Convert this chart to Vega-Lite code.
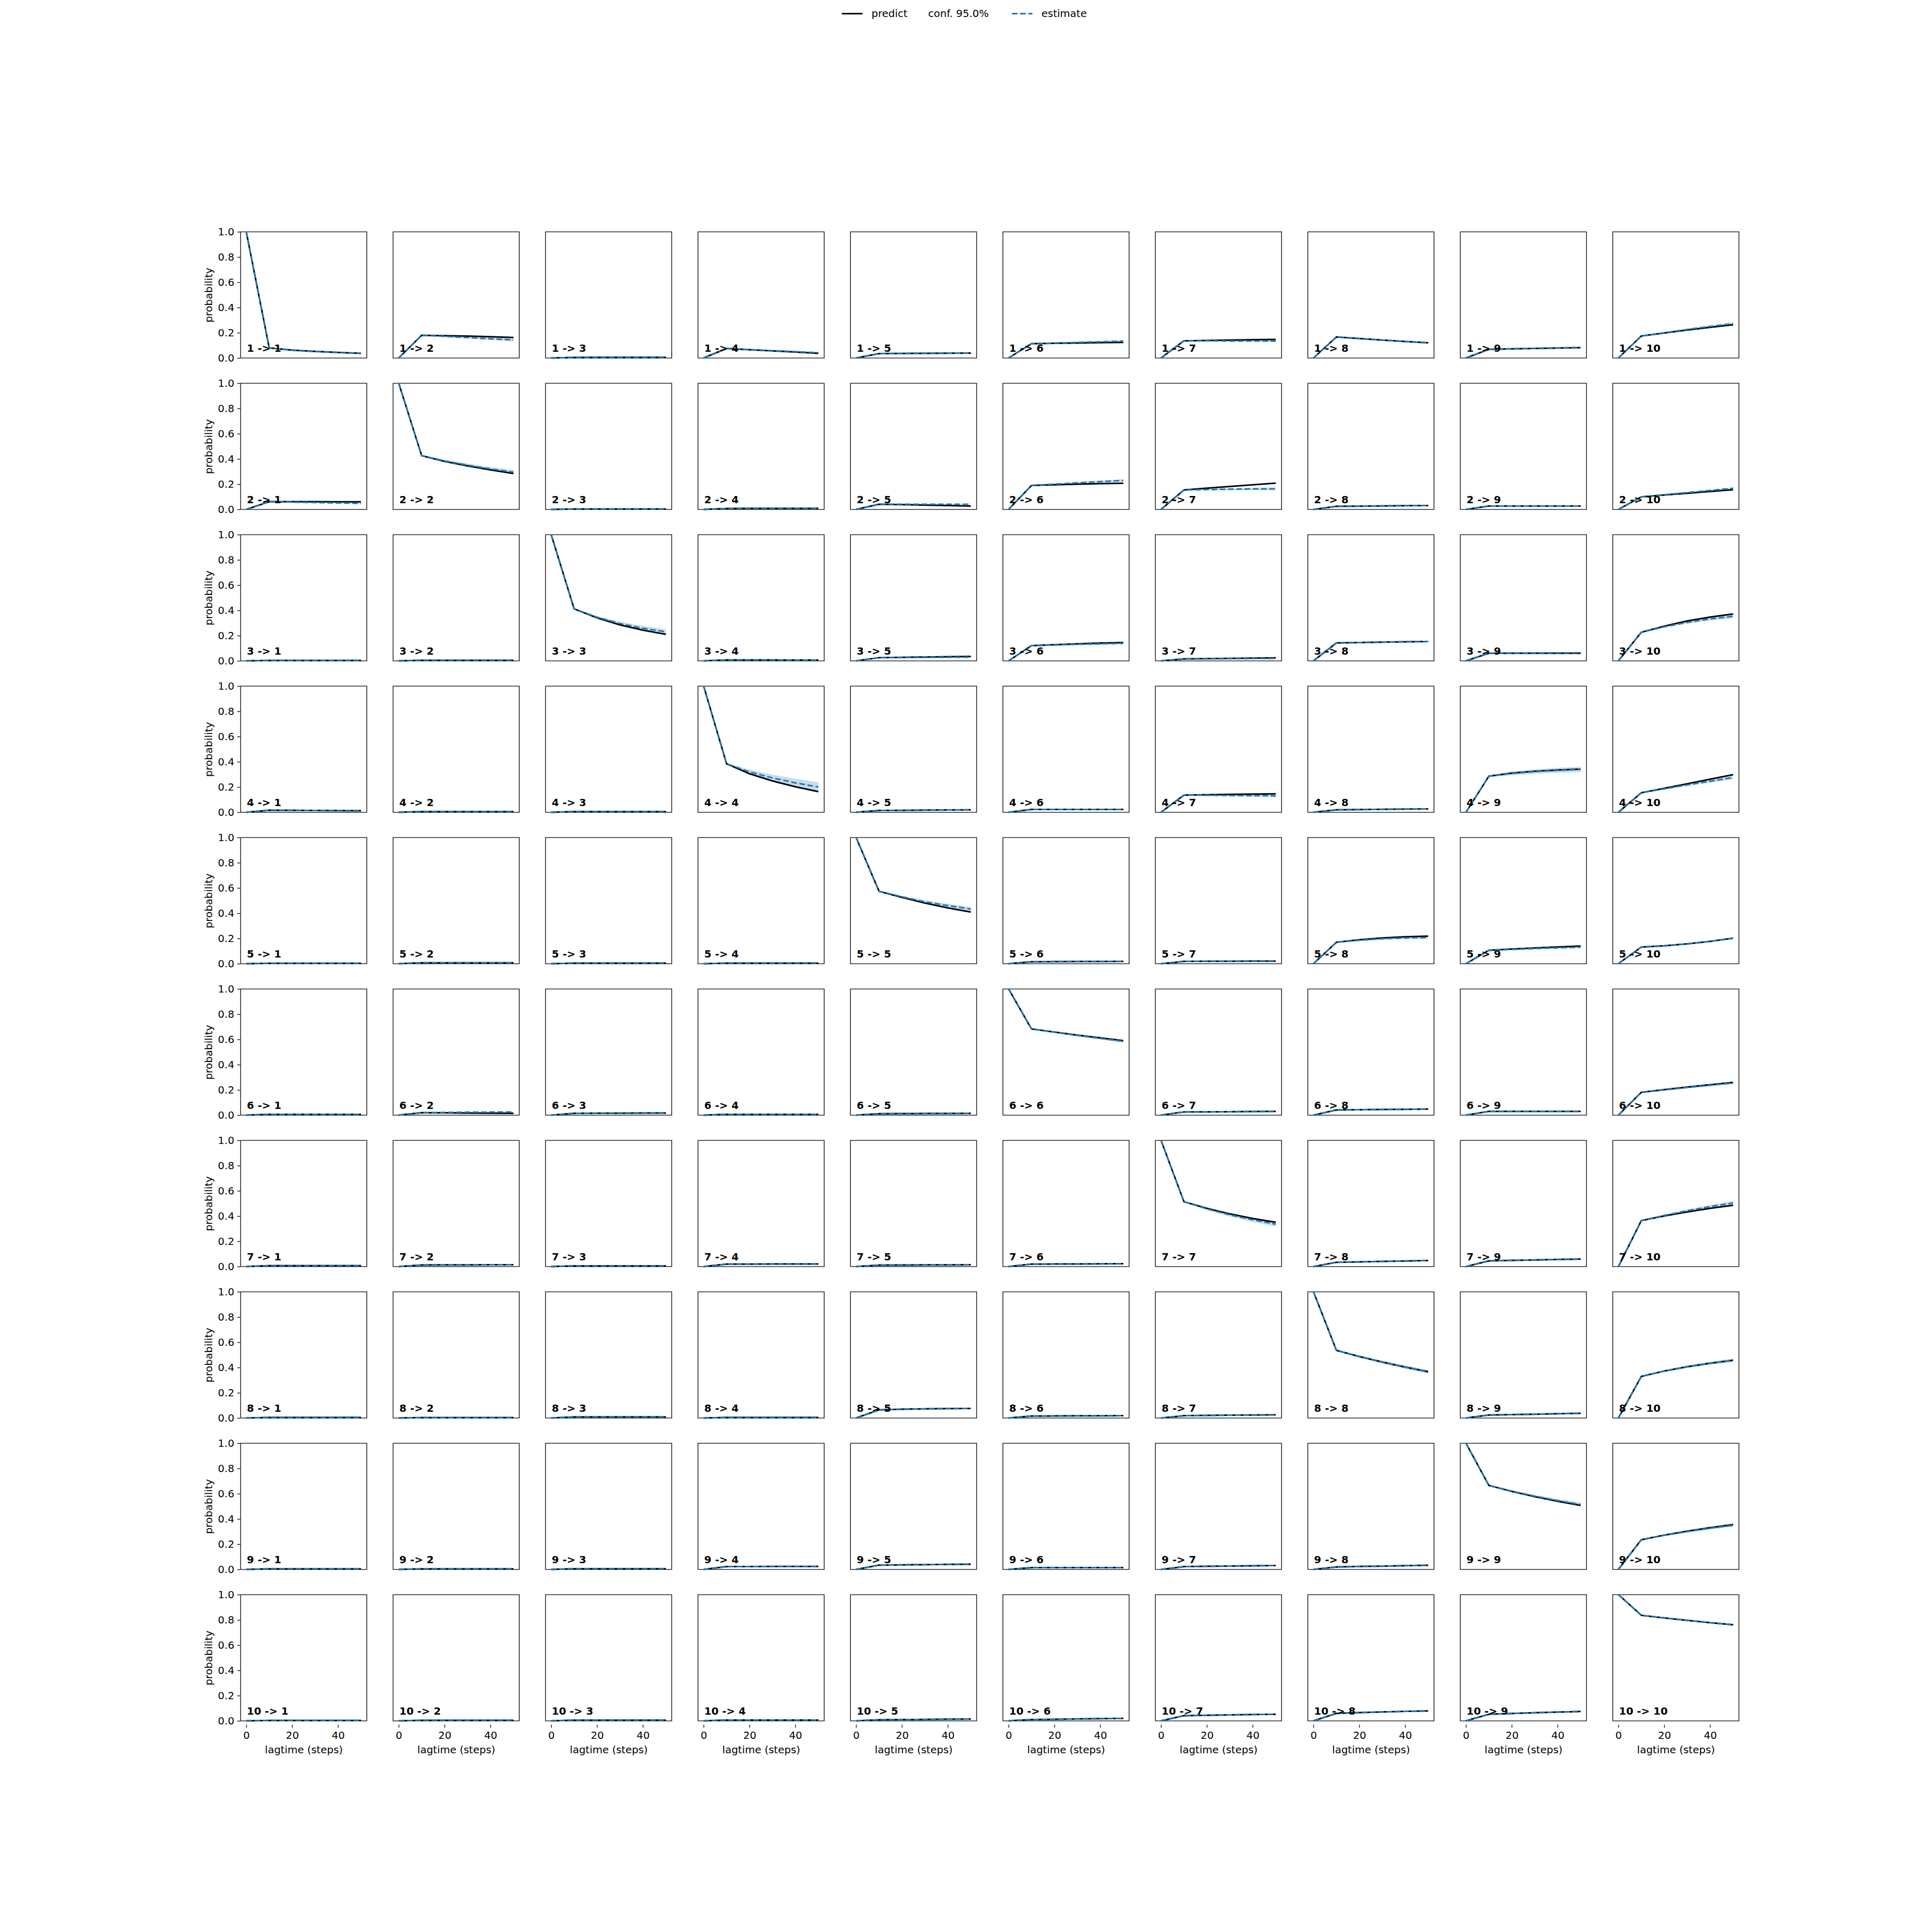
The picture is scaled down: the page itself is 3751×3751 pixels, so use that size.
{
"$schema": "https://vega.github.io/schema/vega-lite/v6.json",
"background": "white",
"padding": {"left": 395, "top": 5, "right": 10, "bottom": 10},
"config": {
  "font": "DejaVu Sans",
  "view": {"stroke": "black", "strokeWidth": 1.33},
  "axis": {"grid": false, "domain": false, "tickColor": "black", "tickSize": 5.8, "tickWidth": 1.33, "labelFont": "DejaVu Sans", "labelFontSize": 20, "labelColor": "black", "labelPadding": 5.8, "titleFont": "DejaVu Sans", "titleFontSize": 20, "titleFontWeight": "normal", "titleColor": "black"},
  "axisX": {"titlePadding": 8},
  "axisY": {"titlePadding": 7},
  "legend": {"orient": "none", "direction": "horizontal", "title": null, "symbolType": "stroke", "symbolSize": 1600, "symbolStrokeWidth": 3, "labelFont": "DejaVu Sans", "labelFontSize": 20, "labelColor": "black", "labelOffset": 16, "labelLimit": 600, "padding": 0}
},
"data": {"values": [
{"i":1,"j":1,"t":0,"p":1,"e":1,"lo":1,"hi":1,"label":"1 -> 1"},
{"i":1,"j":1,"t":10,"p":0.08,"e":0.08,"lo":0.078,"hi":0.082},
{"i":1,"j":1,"t":20,"p":0.062,"e":0.061,"lo":0.058,"hi":0.064},
{"i":1,"j":1,"t":30,"p":0.052,"e":0.051,"lo":0.048,"hi":0.054},
{"i":1,"j":1,"t":40,"p":0.044,"e":0.043,"lo":0.04,"hi":0.046},
{"i":1,"j":1,"t":50,"p":0.037,"e":0.036,"lo":0.033,"hi":0.039},
{"i":1,"j":2,"t":0,"p":0,"e":0,"lo":0,"hi":0,"label":"1 -> 2"},
{"i":1,"j":2,"t":10,"p":0.18,"e":0.18,"lo":0.177,"hi":0.183},
{"i":1,"j":2,"t":20,"p":0.177,"e":0.171,"lo":0.165,"hi":0.177},
{"i":1,"j":2,"t":30,"p":0.173,"e":0.162,"lo":0.154,"hi":0.17},
{"i":1,"j":2,"t":40,"p":0.168,"e":0.152,"lo":0.142,"hi":0.162},
{"i":1,"j":2,"t":50,"p":0.162,"e":0.143,"lo":0.131,"hi":0.155},
{"i":1,"j":3,"t":0,"p":0,"e":0,"lo":0,"hi":0,"label":"1 -> 3"},
{"i":1,"j":3,"t":10,"p":0.004,"e":0.004,"lo":0.003,"hi":0.005},
{"i":1,"j":3,"t":20,"p":0.005,"e":0.005,"lo":0.004,"hi":0.006},
{"i":1,"j":3,"t":30,"p":0.005,"e":0.005,"lo":0.004,"hi":0.006},
{"i":1,"j":3,"t":40,"p":0.005,"e":0.005,"lo":0.004,"hi":0.006},
{"i":1,"j":3,"t":50,"p":0.005,"e":0.005,"lo":0.004,"hi":0.006},
{"i":1,"j":4,"t":0,"p":0,"e":0,"lo":0,"hi":0,"label":"1 -> 4"},
{"i":1,"j":4,"t":10,"p":0.075,"e":0.075,"lo":0.073,"hi":0.077},
{"i":1,"j":4,"t":20,"p":0.065,"e":0.066,"lo":0.063,"hi":0.069},
{"i":1,"j":4,"t":30,"p":0.056,"e":0.058,"lo":0.054,"hi":0.062},
{"i":1,"j":4,"t":40,"p":0.047,"e":0.05,"lo":0.046,"hi":0.054},
{"i":1,"j":4,"t":50,"p":0.037,"e":0.042,"lo":0.037,"hi":0.047},
{"i":1,"j":5,"t":0,"p":0,"e":0,"lo":0,"hi":0,"label":"1 -> 5"},
{"i":1,"j":5,"t":10,"p":0.035,"e":0.035,"lo":0.033,"hi":0.037},
{"i":1,"j":5,"t":20,"p":0.036,"e":0.036,"lo":0.034,"hi":0.038},
{"i":1,"j":5,"t":30,"p":0.037,"e":0.037,"lo":0.035,"hi":0.039},
{"i":1,"j":5,"t":40,"p":0.038,"e":0.038,"lo":0.036,"hi":0.04},
{"i":1,"j":5,"t":50,"p":0.039,"e":0.04,"lo":0.038,"hi":0.042},
{"i":1,"j":6,"t":0,"p":0,"e":0,"lo":0,"hi":0,"label":"1 -> 6"},
{"i":1,"j":6,"t":10,"p":0.113,"e":0.113,"lo":0.111,"hi":0.115},
{"i":1,"j":6,"t":20,"p":0.116,"e":0.118,"lo":0.113,"hi":0.123},
{"i":1,"j":6,"t":30,"p":0.118,"e":0.123,"lo":0.116,"hi":0.13},
{"i":1,"j":6,"t":40,"p":0.121,"e":0.128,"lo":0.12,"hi":0.136},
{"i":1,"j":6,"t":50,"p":0.123,"e":0.133,"lo":0.123,"hi":0.143},
{"i":1,"j":7,"t":0,"p":0,"e":0,"lo":0,"hi":0,"label":"1 -> 7"},
{"i":1,"j":7,"t":10,"p":0.136,"e":0.136,"lo":0.134,"hi":0.138},
{"i":1,"j":7,"t":20,"p":0.139,"e":0.136,"lo":0.132,"hi":0.14},
{"i":1,"j":7,"t":30,"p":0.142,"e":0.135,"lo":0.129,"hi":0.141},
{"i":1,"j":7,"t":40,"p":0.145,"e":0.135,"lo":0.128,"hi":0.142},
{"i":1,"j":7,"t":50,"p":0.147,"e":0.134,"lo":0.126,"hi":0.142},
{"i":1,"j":8,"t":0,"p":0,"e":0,"lo":0,"hi":0,"label":"1 -> 8"},
{"i":1,"j":8,"t":10,"p":0.166,"e":0.166,"lo":0.164,"hi":0.168},
{"i":1,"j":8,"t":20,"p":0.154,"e":0.153,"lo":0.15,"hi":0.156},
{"i":1,"j":8,"t":30,"p":0.142,"e":0.141,"lo":0.137,"hi":0.145},
{"i":1,"j":8,"t":40,"p":0.131,"e":0.13,"lo":0.125,"hi":0.135},
{"i":1,"j":8,"t":50,"p":0.12,"e":0.12,"lo":0.115,"hi":0.125},
{"i":1,"j":9,"t":0,"p":0,"e":0,"lo":0,"hi":0,"label":"1 -> 9"},
{"i":1,"j":9,"t":10,"p":0.068,"e":0.068,"lo":0.065,"hi":0.071},
{"i":1,"j":9,"t":20,"p":0.072,"e":0.073,"lo":0.07,"hi":0.076},
{"i":1,"j":9,"t":30,"p":0.076,"e":0.077,"lo":0.074,"hi":0.08},
{"i":1,"j":9,"t":40,"p":0.079,"e":0.08,"lo":0.077,"hi":0.083},
{"i":1,"j":9,"t":50,"p":0.082,"e":0.083,"lo":0.08,"hi":0.086},
{"i":1,"j":10,"t":0,"p":0,"e":0,"lo":0,"hi":0,"label":"1 -> 10"},
{"i":1,"j":10,"t":10,"p":0.174,"e":0.174,"lo":0.172,"hi":0.176},
{"i":1,"j":10,"t":20,"p":0.198,"e":0.2,"lo":0.195,"hi":0.205},
{"i":1,"j":10,"t":30,"p":0.221,"e":0.226,"lo":0.219,"hi":0.233},
{"i":1,"j":10,"t":40,"p":0.243,"e":0.25,"lo":0.242,"hi":0.258},
{"i":1,"j":10,"t":50,"p":0.263,"e":0.272,"lo":0.262,"hi":0.282},

{"i":2,"j":1,"t":0,"p":0,"e":0,"lo":0,"hi":0,"label":"2 -> 1"},
{"i":2,"j":1,"t":10,"p":0.061,"e":0.061,"lo":0.059,"hi":0.063},
{"i":2,"j":1,"t":20,"p":0.061,"e":0.058,"lo":0.055,"hi":0.061},
{"i":2,"j":1,"t":30,"p":0.061,"e":0.054,"lo":0.05,"hi":0.058},
{"i":2,"j":1,"t":40,"p":0.06,"e":0.051,"lo":0.046,"hi":0.056},
{"i":2,"j":1,"t":50,"p":0.06,"e":0.048,"lo":0.042,"hi":0.054},
{"i":2,"j":2,"t":0,"p":1,"e":1,"lo":1,"hi":1,"label":"2 -> 2"},
{"i":2,"j":2,"t":10,"p":0.426,"e":0.426,"lo":0.423,"hi":0.429},
{"i":2,"j":2,"t":20,"p":0.38,"e":0.384,"lo":0.374,"hi":0.394},
{"i":2,"j":2,"t":30,"p":0.345,"e":0.35,"lo":0.337,"hi":0.363},
{"i":2,"j":2,"t":40,"p":0.313,"e":0.321,"lo":0.306,"hi":0.336},
{"i":2,"j":2,"t":50,"p":0.285,"e":0.295,"lo":0.277,"hi":0.313},
{"i":2,"j":3,"t":0,"p":0,"e":0,"lo":0,"hi":0,"label":"2 -> 3"},
{"i":2,"j":3,"t":10,"p":0.003,"e":0.003,"lo":0.002,"hi":0.004},
{"i":2,"j":3,"t":20,"p":0.003,"e":0.003,"lo":0.002,"hi":0.004},
{"i":2,"j":3,"t":30,"p":0.003,"e":0.003,"lo":0.002,"hi":0.004},
{"i":2,"j":3,"t":40,"p":0.003,"e":0.003,"lo":0.002,"hi":0.004},
{"i":2,"j":3,"t":50,"p":0.003,"e":0.003,"lo":0.002,"hi":0.004},
{"i":2,"j":4,"t":0,"p":0,"e":0,"lo":0,"hi":0,"label":"2 -> 4"},
{"i":2,"j":4,"t":10,"p":0.007,"e":0.007,"lo":0.006,"hi":0.008},
{"i":2,"j":4,"t":20,"p":0.008,"e":0.008,"lo":0.007,"hi":0.009},
{"i":2,"j":4,"t":30,"p":0.008,"e":0.008,"lo":0.007,"hi":0.009},
{"i":2,"j":4,"t":40,"p":0.008,"e":0.008,"lo":0.007,"hi":0.009},
{"i":2,"j":4,"t":50,"p":0.008,"e":0.008,"lo":0.007,"hi":0.009},
{"i":2,"j":5,"t":0,"p":0,"e":0,"lo":0,"hi":0,"label":"2 -> 5"},
{"i":2,"j":5,"t":10,"p":0.041,"e":0.041,"lo":0.038,"hi":0.044},
{"i":2,"j":5,"t":20,"p":0.038,"e":0.041,"lo":0.038,"hi":0.044},
{"i":2,"j":5,"t":30,"p":0.034,"e":0.041,"lo":0.038,"hi":0.044},
{"i":2,"j":5,"t":40,"p":0.031,"e":0.041,"lo":0.038,"hi":0.044},
{"i":2,"j":5,"t":50,"p":0.027,"e":0.041,"lo":0.038,"hi":0.044},
{"i":2,"j":6,"t":0,"p":0,"e":0,"lo":0,"hi":0,"label":"2 -> 6"},
{"i":2,"j":6,"t":10,"p":0.19,"e":0.19,"lo":0.187,"hi":0.193},
{"i":2,"j":6,"t":20,"p":0.195,"e":0.2,"lo":0.194,"hi":0.206},
{"i":2,"j":6,"t":30,"p":0.2,"e":0.21,"lo":0.202,"hi":0.218},
{"i":2,"j":6,"t":40,"p":0.204,"e":0.22,"lo":0.211,"hi":0.229},
{"i":2,"j":6,"t":50,"p":0.207,"e":0.229,"lo":0.219,"hi":0.239},
{"i":2,"j":7,"t":0,"p":0,"e":0,"lo":0,"hi":0,"label":"2 -> 7"},
{"i":2,"j":7,"t":10,"p":0.154,"e":0.154,"lo":0.151,"hi":0.157},
{"i":2,"j":7,"t":20,"p":0.168,"e":0.157,"lo":0.151,"hi":0.163},
{"i":2,"j":7,"t":30,"p":0.182,"e":0.16,"lo":0.152,"hi":0.168},
{"i":2,"j":7,"t":40,"p":0.195,"e":0.162,"lo":0.152,"hi":0.172},
{"i":2,"j":7,"t":50,"p":0.208,"e":0.163,"lo":0.151,"hi":0.175},
{"i":2,"j":8,"t":0,"p":0,"e":0,"lo":0,"hi":0,"label":"2 -> 8"},
{"i":2,"j":8,"t":10,"p":0.024,"e":0.024,"lo":0.021,"hi":0.027},
{"i":2,"j":8,"t":20,"p":0.026,"e":0.026,"lo":0.023,"hi":0.029},
{"i":2,"j":8,"t":30,"p":0.028,"e":0.028,"lo":0.025,"hi":0.031},
{"i":2,"j":8,"t":40,"p":0.03,"e":0.03,"lo":0.027,"hi":0.033},
{"i":2,"j":8,"t":50,"p":0.031,"e":0.031,"lo":0.028,"hi":0.034},
{"i":2,"j":9,"t":0,"p":0,"e":0,"lo":0,"hi":0,"label":"2 -> 9"},
{"i":2,"j":9,"t":10,"p":0.027,"e":0.027,"lo":0.025,"hi":0.029},
{"i":2,"j":9,"t":20,"p":0.027,"e":0.027,"lo":0.025,"hi":0.029},
{"i":2,"j":9,"t":30,"p":0.027,"e":0.027,"lo":0.025,"hi":0.029},
{"i":2,"j":9,"t":40,"p":0.027,"e":0.027,"lo":0.025,"hi":0.029},
{"i":2,"j":9,"t":50,"p":0.027,"e":0.027,"lo":0.025,"hi":0.029},
{"i":2,"j":10,"t":0,"p":0,"e":0,"lo":0,"hi":0,"label":"2 -> 10"},
{"i":2,"j":10,"t":10,"p":0.099,"e":0.099,"lo":0.097,"hi":0.101},
{"i":2,"j":10,"t":20,"p":0.114,"e":0.116,"lo":0.112,"hi":0.12},
{"i":2,"j":10,"t":30,"p":0.128,"e":0.133,"lo":0.128,"hi":0.138},
{"i":2,"j":10,"t":40,"p":0.142,"e":0.15,"lo":0.144,"hi":0.156},
{"i":2,"j":10,"t":50,"p":0.156,"e":0.167,"lo":0.16,"hi":0.174},

{"i":3,"j":1,"t":0,"p":0,"e":0,"lo":0,"hi":0,"label":"3 -> 1"},
{"i":3,"j":1,"t":10,"p":0.003,"e":0.003,"lo":0.002,"hi":0.004},
{"i":3,"j":1,"t":20,"p":0.003,"e":0.003,"lo":0.002,"hi":0.004},
{"i":3,"j":1,"t":30,"p":0.003,"e":0.003,"lo":0.002,"hi":0.004},
{"i":3,"j":1,"t":40,"p":0.003,"e":0.003,"lo":0.002,"hi":0.004},
{"i":3,"j":1,"t":50,"p":0.003,"e":0.003,"lo":0.002,"hi":0.004},
{"i":3,"j":2,"t":0,"p":0,"e":0,"lo":0,"hi":0,"label":"3 -> 2"},
{"i":3,"j":2,"t":10,"p":0.004,"e":0.004,"lo":0.002,"hi":0.006},
{"i":3,"j":2,"t":20,"p":0.004,"e":0.004,"lo":0.002,"hi":0.006},
{"i":3,"j":2,"t":30,"p":0.004,"e":0.004,"lo":0.002,"hi":0.006},
{"i":3,"j":2,"t":40,"p":0.004,"e":0.004,"lo":0.002,"hi":0.006},
{"i":3,"j":2,"t":50,"p":0.004,"e":0.004,"lo":0.002,"hi":0.006},
{"i":3,"j":3,"t":0,"p":1,"e":1,"lo":1,"hi":1,"label":"3 -> 3"},
{"i":3,"j":3,"t":10,"p":0.412,"e":0.412,"lo":0.409,"hi":0.415},
{"i":3,"j":3,"t":20,"p":0.34,"e":0.345,"lo":0.335,"hi":0.355},
{"i":3,"j":3,"t":30,"p":0.285,"e":0.295,"lo":0.28,"hi":0.31},
{"i":3,"j":3,"t":40,"p":0.243,"e":0.258,"lo":0.24,"hi":0.276},
{"i":3,"j":3,"t":50,"p":0.21,"e":0.23,"lo":0.21,"hi":0.25},
{"i":3,"j":4,"t":0,"p":0,"e":0,"lo":0,"hi":0,"label":"3 -> 4"},
{"i":3,"j":4,"t":10,"p":0.007,"e":0.007,"lo":0.006,"hi":0.008},
{"i":3,"j":4,"t":20,"p":0.007,"e":0.007,"lo":0.006,"hi":0.008},
{"i":3,"j":4,"t":30,"p":0.007,"e":0.007,"lo":0.006,"hi":0.008},
{"i":3,"j":4,"t":40,"p":0.006,"e":0.006,"lo":0.005,"hi":0.007},
{"i":3,"j":4,"t":50,"p":0.006,"e":0.006,"lo":0.005,"hi":0.007},
{"i":3,"j":5,"t":0,"p":0,"e":0,"lo":0,"hi":0,"label":"3 -> 5"},
{"i":3,"j":5,"t":10,"p":0.025,"e":0.025,"lo":0.022,"hi":0.028},
{"i":3,"j":5,"t":20,"p":0.028,"e":0.026,"lo":0.023,"hi":0.029},
{"i":3,"j":5,"t":30,"p":0.03,"e":0.027,"lo":0.024,"hi":0.03},
{"i":3,"j":5,"t":40,"p":0.033,"e":0.028,"lo":0.025,"hi":0.031},
{"i":3,"j":5,"t":50,"p":0.035,"e":0.029,"lo":0.026,"hi":0.032},
{"i":3,"j":6,"t":0,"p":0,"e":0,"lo":0,"hi":0,"label":"3 -> 6"},
{"i":3,"j":6,"t":10,"p":0.12,"e":0.12,"lo":0.118,"hi":0.122},
{"i":3,"j":6,"t":20,"p":0.128,"e":0.126,"lo":0.121,"hi":0.131},
{"i":3,"j":6,"t":30,"p":0.135,"e":0.131,"lo":0.124,"hi":0.138},
{"i":3,"j":6,"t":40,"p":0.141,"e":0.135,"lo":0.127,"hi":0.143},
{"i":3,"j":6,"t":50,"p":0.145,"e":0.139,"lo":0.13,"hi":0.148},
{"i":3,"j":7,"t":0,"p":0,"e":0,"lo":0,"hi":0,"label":"3 -> 7"},
{"i":3,"j":7,"t":10,"p":0.015,"e":0.015,"lo":0.013,"hi":0.017},
{"i":3,"j":7,"t":20,"p":0.017,"e":0.016,"lo":0.014,"hi":0.018},
{"i":3,"j":7,"t":30,"p":0.019,"e":0.017,"lo":0.015,"hi":0.019},
{"i":3,"j":7,"t":40,"p":0.021,"e":0.018,"lo":0.016,"hi":0.02},
{"i":3,"j":7,"t":50,"p":0.023,"e":0.019,"lo":0.017,"hi":0.021},
{"i":3,"j":8,"t":0,"p":0,"e":0,"lo":0,"hi":0,"label":"3 -> 8"},
{"i":3,"j":8,"t":10,"p":0.142,"e":0.142,"lo":0.138,"hi":0.146},
{"i":3,"j":8,"t":20,"p":0.145,"e":0.145,"lo":0.141,"hi":0.149},
{"i":3,"j":8,"t":30,"p":0.148,"e":0.148,"lo":0.144,"hi":0.152},
{"i":3,"j":8,"t":40,"p":0.151,"e":0.151,"lo":0.147,"hi":0.155},
{"i":3,"j":8,"t":50,"p":0.153,"e":0.153,"lo":0.149,"hi":0.157},
{"i":3,"j":9,"t":0,"p":0,"e":0,"lo":0,"hi":0,"label":"3 -> 9"},
{"i":3,"j":9,"t":10,"p":0.06,"e":0.06,"lo":0.056,"hi":0.064},
{"i":3,"j":9,"t":20,"p":0.06,"e":0.061,"lo":0.057,"hi":0.065},
{"i":3,"j":9,"t":30,"p":0.06,"e":0.062,"lo":0.058,"hi":0.066},
{"i":3,"j":9,"t":40,"p":0.06,"e":0.063,"lo":0.059,"hi":0.067},
{"i":3,"j":9,"t":50,"p":0.06,"e":0.064,"lo":0.06,"hi":0.068},
{"i":3,"j":10,"t":0,"p":0,"e":0,"lo":0,"hi":0,"label":"3 -> 10"},
{"i":3,"j":10,"t":10,"p":0.226,"e":0.226,"lo":0.223,"hi":0.229},
{"i":3,"j":10,"t":20,"p":0.275,"e":0.27,"lo":0.262,"hi":0.278},
{"i":3,"j":10,"t":30,"p":0.316,"e":0.305,"lo":0.294,"hi":0.316},
{"i":3,"j":10,"t":40,"p":0.347,"e":0.332,"lo":0.319,"hi":0.345},
{"i":3,"j":10,"t":50,"p":0.371,"e":0.353,"lo":0.338,"hi":0.368},

{"i":4,"j":1,"t":0,"p":0,"e":0,"lo":0,"hi":0,"label":"4 -> 1"},
{"i":4,"j":1,"t":10,"p":0.016,"e":0.016,"lo":0.013,"hi":0.019},
{"i":4,"j":1,"t":20,"p":0.015,"e":0.015,"lo":0.012,"hi":0.018},
{"i":4,"j":1,"t":30,"p":0.014,"e":0.014,"lo":0.011,"hi":0.017},
{"i":4,"j":1,"t":40,"p":0.013,"e":0.013,"lo":0.01,"hi":0.016},
{"i":4,"j":1,"t":50,"p":0.012,"e":0.012,"lo":0.009,"hi":0.015},
{"i":4,"j":2,"t":0,"p":0,"e":0,"lo":0,"hi":0,"label":"4 -> 2"},
{"i":4,"j":2,"t":10,"p":0.005,"e":0.005,"lo":0.004,"hi":0.006},
{"i":4,"j":2,"t":20,"p":0.005,"e":0.005,"lo":0.004,"hi":0.006},
{"i":4,"j":2,"t":30,"p":0.005,"e":0.005,"lo":0.004,"hi":0.006},
{"i":4,"j":2,"t":40,"p":0.005,"e":0.005,"lo":0.004,"hi":0.006},
{"i":4,"j":2,"t":50,"p":0.005,"e":0.005,"lo":0.004,"hi":0.006},
{"i":4,"j":3,"t":0,"p":0,"e":0,"lo":0,"hi":0,"label":"4 -> 3"},
{"i":4,"j":3,"t":10,"p":0.005,"e":0.005,"lo":0.004,"hi":0.006},
{"i":4,"j":3,"t":20,"p":0.005,"e":0.005,"lo":0.004,"hi":0.006},
{"i":4,"j":3,"t":30,"p":0.005,"e":0.005,"lo":0.004,"hi":0.006},
{"i":4,"j":3,"t":40,"p":0.005,"e":0.005,"lo":0.004,"hi":0.006},
{"i":4,"j":3,"t":50,"p":0.005,"e":0.005,"lo":0.004,"hi":0.006},
{"i":4,"j":4,"t":0,"p":1,"e":1,"lo":1,"hi":1,"label":"4 -> 4"},
{"i":4,"j":4,"t":10,"p":0.384,"e":0.384,"lo":0.379,"hi":0.389},
{"i":4,"j":4,"t":20,"p":0.305,"e":0.32,"lo":0.302,"hi":0.338},
{"i":4,"j":4,"t":30,"p":0.248,"e":0.272,"lo":0.246,"hi":0.298},
{"i":4,"j":4,"t":40,"p":0.202,"e":0.233,"lo":0.201,"hi":0.265},
{"i":4,"j":4,"t":50,"p":0.163,"e":0.2,"lo":0.162,"hi":0.238},
{"i":4,"j":5,"t":0,"p":0,"e":0,"lo":0,"hi":0,"label":"4 -> 5"},
{"i":4,"j":5,"t":10,"p":0.014,"e":0.014,"lo":0.012,"hi":0.016},
{"i":4,"j":5,"t":20,"p":0.015,"e":0.015,"lo":0.013,"hi":0.017},
{"i":4,"j":5,"t":30,"p":0.017,"e":0.017,"lo":0.015,"hi":0.019},
{"i":4,"j":5,"t":40,"p":0.018,"e":0.018,"lo":0.016,"hi":0.02},
{"i":4,"j":5,"t":50,"p":0.019,"e":0.019,"lo":0.017,"hi":0.021},
{"i":4,"j":6,"t":0,"p":0,"e":0,"lo":0,"hi":0,"label":"4 -> 6"},
{"i":4,"j":6,"t":10,"p":0.022,"e":0.022,"lo":0.02,"hi":0.024},
{"i":4,"j":6,"t":20,"p":0.022,"e":0.022,"lo":0.02,"hi":0.024},
{"i":4,"j":6,"t":30,"p":0.022,"e":0.022,"lo":0.02,"hi":0.024},
{"i":4,"j":6,"t":40,"p":0.022,"e":0.022,"lo":0.02,"hi":0.024},
{"i":4,"j":6,"t":50,"p":0.022,"e":0.022,"lo":0.02,"hi":0.024},
{"i":4,"j":7,"t":0,"p":0,"e":0,"lo":0,"hi":0,"label":"4 -> 7"},
{"i":4,"j":7,"t":10,"p":0.136,"e":0.136,"lo":0.133,"hi":0.139},
{"i":4,"j":7,"t":20,"p":0.139,"e":0.135,"lo":0.129,"hi":0.141},
{"i":4,"j":7,"t":30,"p":0.142,"e":0.133,"lo":0.125,"hi":0.141},
{"i":4,"j":7,"t":40,"p":0.144,"e":0.132,"lo":0.122,"hi":0.142},
{"i":4,"j":7,"t":50,"p":0.146,"e":0.13,"lo":0.118,"hi":0.142},
{"i":4,"j":8,"t":0,"p":0,"e":0,"lo":0,"hi":0,"label":"4 -> 8"},
{"i":4,"j":8,"t":10,"p":0.019,"e":0.019,"lo":0.016,"hi":0.022},
{"i":4,"j":8,"t":20,"p":0.021,"e":0.021,"lo":0.018,"hi":0.024},
{"i":4,"j":8,"t":30,"p":0.023,"e":0.023,"lo":0.02,"hi":0.026},
{"i":4,"j":8,"t":40,"p":0.025,"e":0.025,"lo":0.022,"hi":0.028},
{"i":4,"j":8,"t":50,"p":0.027,"e":0.027,"lo":0.024,"hi":0.03},
{"i":4,"j":9,"t":0,"p":0,"e":0,"lo":0,"hi":0,"label":"4 -> 9"},
{"i":4,"j":9,"t":10,"p":0.286,"e":0.286,"lo":0.281,"hi":0.291},
{"i":4,"j":9,"t":20,"p":0.31,"e":0.308,"lo":0.293,"hi":0.323},
{"i":4,"j":9,"t":30,"p":0.325,"e":0.322,"lo":0.304,"hi":0.34},
{"i":4,"j":9,"t":40,"p":0.335,"e":0.332,"lo":0.312,"hi":0.352},
{"i":4,"j":9,"t":50,"p":0.342,"e":0.34,"lo":0.318,"hi":0.362},
{"i":4,"j":10,"t":0,"p":0,"e":0,"lo":0,"hi":0,"label":"4 -> 10"},
{"i":4,"j":10,"t":10,"p":0.155,"e":0.155,"lo":0.152,"hi":0.158},
{"i":4,"j":10,"t":20,"p":0.19,"e":0.186,"lo":0.179,"hi":0.193},
{"i":4,"j":10,"t":30,"p":0.226,"e":0.217,"lo":0.207,"hi":0.227},
{"i":4,"j":10,"t":40,"p":0.262,"e":0.246,"lo":0.234,"hi":0.258},
{"i":4,"j":10,"t":50,"p":0.298,"e":0.275,"lo":0.261,"hi":0.289},

{"i":5,"j":1,"t":0,"p":0,"e":0,"lo":0,"hi":0,"label":"5 -> 1"},
{"i":5,"j":1,"t":10,"p":0.003,"e":0.003,"lo":0.002,"hi":0.004},
{"i":5,"j":1,"t":20,"p":0.003,"e":0.003,"lo":0.002,"hi":0.004},
{"i":5,"j":1,"t":30,"p":0.003,"e":0.003,"lo":0.002,"hi":0.004},
{"i":5,"j":1,"t":40,"p":0.003,"e":0.003,"lo":0.002,"hi":0.004},
{"i":5,"j":1,"t":50,"p":0.003,"e":0.003,"lo":0.002,"hi":0.004},
{"i":5,"j":2,"t":0,"p":0,"e":0,"lo":0,"hi":0,"label":"5 -> 2"},
{"i":5,"j":2,"t":10,"p":0.007,"e":0.007,"lo":0.005,"hi":0.009},
{"i":5,"j":2,"t":20,"p":0.007,"e":0.007,"lo":0.005,"hi":0.009},
{"i":5,"j":2,"t":30,"p":0.007,"e":0.007,"lo":0.005,"hi":0.009},
{"i":5,"j":2,"t":40,"p":0.007,"e":0.007,"lo":0.005,"hi":0.009},
{"i":5,"j":2,"t":50,"p":0.007,"e":0.007,"lo":0.005,"hi":0.009},
{"i":5,"j":3,"t":0,"p":0,"e":0,"lo":0,"hi":0,"label":"5 -> 3"},
{"i":5,"j":3,"t":10,"p":0.004,"e":0.004,"lo":0.003,"hi":0.005},
{"i":5,"j":3,"t":20,"p":0.004,"e":0.004,"lo":0.003,"hi":0.005},
{"i":5,"j":3,"t":30,"p":0.004,"e":0.004,"lo":0.003,"hi":0.005},
{"i":5,"j":3,"t":40,"p":0.004,"e":0.004,"lo":0.003,"hi":0.005},
{"i":5,"j":3,"t":50,"p":0.004,"e":0.004,"lo":0.003,"hi":0.005},
{"i":5,"j":4,"t":0,"p":0,"e":0,"lo":0,"hi":0,"label":"5 -> 4"},
{"i":5,"j":4,"t":10,"p":0.004,"e":0.004,"lo":0.003,"hi":0.005},
{"i":5,"j":4,"t":20,"p":0.004,"e":0.004,"lo":0.003,"hi":0.005},
{"i":5,"j":4,"t":30,"p":0.004,"e":0.004,"lo":0.003,"hi":0.005},
{"i":5,"j":4,"t":40,"p":0.004,"e":0.004,"lo":0.003,"hi":0.005},
{"i":5,"j":4,"t":50,"p":0.004,"e":0.004,"lo":0.003,"hi":0.005},
{"i":5,"j":5,"t":0,"p":1,"e":1,"lo":1,"hi":1,"label":"5 -> 5"},
{"i":5,"j":5,"t":10,"p":0.574,"e":0.574,"lo":0.571,"hi":0.577},
{"i":5,"j":5,"t":20,"p":0.525,"e":0.53,"lo":0.522,"hi":0.538},
{"i":5,"j":5,"t":30,"p":0.48,"e":0.49,"lo":0.478,"hi":0.502},
{"i":5,"j":5,"t":40,"p":0.442,"e":0.46,"lo":0.446,"hi":0.474},
{"i":5,"j":5,"t":50,"p":0.409,"e":0.433,"lo":0.417,"hi":0.449},
{"i":5,"j":6,"t":0,"p":0,"e":0,"lo":0,"hi":0,"label":"5 -> 6"},
{"i":5,"j":6,"t":10,"p":0.015,"e":0.015,"lo":0.013,"hi":0.017},
{"i":5,"j":6,"t":20,"p":0.016,"e":0.016,"lo":0.014,"hi":0.018},
{"i":5,"j":6,"t":30,"p":0.017,"e":0.017,"lo":0.015,"hi":0.019},
{"i":5,"j":6,"t":40,"p":0.017,"e":0.017,"lo":0.015,"hi":0.019},
{"i":5,"j":6,"t":50,"p":0.018,"e":0.018,"lo":0.016,"hi":0.02},
{"i":5,"j":7,"t":0,"p":0,"e":0,"lo":0,"hi":0,"label":"5 -> 7"},
{"i":5,"j":7,"t":10,"p":0.018,"e":0.018,"lo":0.016,"hi":0.02},
{"i":5,"j":7,"t":20,"p":0.019,"e":0.019,"lo":0.017,"hi":0.021},
{"i":5,"j":7,"t":30,"p":0.019,"e":0.019,"lo":0.017,"hi":0.021},
{"i":5,"j":7,"t":40,"p":0.02,"e":0.02,"lo":0.018,"hi":0.022},
{"i":5,"j":7,"t":50,"p":0.02,"e":0.02,"lo":0.018,"hi":0.022},
{"i":5,"j":8,"t":0,"p":0,"e":0,"lo":0,"hi":0,"label":"5 -> 8"},
{"i":5,"j":8,"t":10,"p":0.17,"e":0.17,"lo":0.167,"hi":0.173},
{"i":5,"j":8,"t":20,"p":0.19,"e":0.186,"lo":0.179,"hi":0.193},
{"i":5,"j":8,"t":30,"p":0.204,"e":0.198,"lo":0.189,"hi":0.207},
{"i":5,"j":8,"t":40,"p":0.213,"e":0.204,"lo":0.194,"hi":0.214},
{"i":5,"j":8,"t":50,"p":0.218,"e":0.208,"lo":0.197,"hi":0.219},
{"i":5,"j":9,"t":0,"p":0,"e":0,"lo":0,"hi":0,"label":"5 -> 9"},
{"i":5,"j":9,"t":10,"p":0.106,"e":0.106,"lo":0.103,"hi":0.109},
{"i":5,"j":9,"t":20,"p":0.116,"e":0.113,"lo":0.108,"hi":0.118},
{"i":5,"j":9,"t":30,"p":0.125,"e":0.12,"lo":0.113,"hi":0.127},
{"i":5,"j":9,"t":40,"p":0.133,"e":0.126,"lo":0.118,"hi":0.134},
{"i":5,"j":9,"t":50,"p":0.14,"e":0.131,"lo":0.122,"hi":0.14},
{"i":5,"j":10,"t":0,"p":0,"e":0,"lo":0,"hi":0,"label":"5 -> 10"},
{"i":5,"j":10,"t":10,"p":0.132,"e":0.132,"lo":0.13,"hi":0.134},
{"i":5,"j":10,"t":20,"p":0.142,"e":0.142,"lo":0.138,"hi":0.146},
{"i":5,"j":10,"t":30,"p":0.157,"e":0.157,"lo":0.152,"hi":0.162},
{"i":5,"j":10,"t":40,"p":0.177,"e":0.177,"lo":0.171,"hi":0.183},
{"i":5,"j":10,"t":50,"p":0.202,"e":0.202,"lo":0.195,"hi":0.209},

{"i":6,"j":1,"t":0,"p":0,"e":0,"lo":0,"hi":0,"label":"6 -> 1"},
{"i":6,"j":1,"t":10,"p":0.006,"e":0.006,"lo":0.005,"hi":0.007},
{"i":6,"j":1,"t":20,"p":0.006,"e":0.006,"lo":0.005,"hi":0.007},
{"i":6,"j":1,"t":30,"p":0.006,"e":0.006,"lo":0.005,"hi":0.007},
{"i":6,"j":1,"t":40,"p":0.006,"e":0.006,"lo":0.005,"hi":0.007},
{"i":6,"j":1,"t":50,"p":0.006,"e":0.006,"lo":0.005,"hi":0.007},
{"i":6,"j":2,"t":0,"p":0,"e":0,"lo":0,"hi":0,"label":"6 -> 2"},
{"i":6,"j":2,"t":10,"p":0.019,"e":0.019,"lo":0.016,"hi":0.022},
{"i":6,"j":2,"t":20,"p":0.018,"e":0.021,"lo":0.018,"hi":0.024},
{"i":6,"j":2,"t":30,"p":0.016,"e":0.023,"lo":0.02,"hi":0.026},
{"i":6,"j":2,"t":40,"p":0.015,"e":0.024,"lo":0.021,"hi":0.027},
{"i":6,"j":2,"t":50,"p":0.014,"e":0.025,"lo":0.022,"hi":0.028},
{"i":6,"j":3,"t":0,"p":0,"e":0,"lo":0,"hi":0,"label":"6 -> 3"},
{"i":6,"j":3,"t":10,"p":0.014,"e":0.014,"lo":0.011,"hi":0.017},
{"i":6,"j":3,"t":20,"p":0.015,"e":0.015,"lo":0.012,"hi":0.018},
{"i":6,"j":3,"t":30,"p":0.015,"e":0.016,"lo":0.013,"hi":0.019},
{"i":6,"j":3,"t":40,"p":0.016,"e":0.017,"lo":0.014,"hi":0.02},
{"i":6,"j":3,"t":50,"p":0.016,"e":0.018,"lo":0.015,"hi":0.021},
{"i":6,"j":4,"t":0,"p":0,"e":0,"lo":0,"hi":0,"label":"6 -> 4"},
{"i":6,"j":4,"t":10,"p":0.006,"e":0.006,"lo":0.005,"hi":0.007},
{"i":6,"j":4,"t":20,"p":0.006,"e":0.006,"lo":0.005,"hi":0.007},
{"i":6,"j":4,"t":30,"p":0.006,"e":0.006,"lo":0.005,"hi":0.007},
{"i":6,"j":4,"t":40,"p":0.006,"e":0.006,"lo":0.005,"hi":0.007},
{"i":6,"j":4,"t":50,"p":0.006,"e":0.006,"lo":0.005,"hi":0.007},
{"i":6,"j":5,"t":0,"p":0,"e":0,"lo":0,"hi":0,"label":"6 -> 5"},
{"i":6,"j":5,"t":10,"p":0.011,"e":0.011,"lo":0.009,"hi":0.013},
{"i":6,"j":5,"t":20,"p":0.012,"e":0.012,"lo":0.01,"hi":0.014},
{"i":6,"j":5,"t":30,"p":0.013,"e":0.013,"lo":0.011,"hi":0.015},
{"i":6,"j":5,"t":40,"p":0.013,"e":0.013,"lo":0.011,"hi":0.015},
{"i":6,"j":5,"t":50,"p":0.014,"e":0.014,"lo":0.012,"hi":0.016},
{"i":6,"j":6,"t":0,"p":1,"e":1,"lo":1,"hi":1,"label":"6 -> 6"},
{"i":6,"j":6,"t":10,"p":0.683,"e":0.683,"lo":0.68,"hi":0.686},
{"i":6,"j":6,"t":20,"p":0.658,"e":0.657,"lo":0.651,"hi":0.663},
{"i":6,"j":6,"t":30,"p":0.634,"e":0.632,"lo":0.624,"hi":0.64},
{"i":6,"j":6,"t":40,"p":0.612,"e":0.608,"lo":0.598,"hi":0.618},
{"i":6,"j":6,"t":50,"p":0.59,"e":0.585,"lo":0.573,"hi":0.597},
{"i":6,"j":7,"t":0,"p":0,"e":0,"lo":0,"hi":0,"label":"6 -> 7"},
{"i":6,"j":7,"t":10,"p":0.025,"e":0.025,"lo":0.022,"hi":0.028},
{"i":6,"j":7,"t":20,"p":0.026,"e":0.026,"lo":0.023,"hi":0.029},
{"i":6,"j":7,"t":30,"p":0.027,"e":0.027,"lo":0.024,"hi":0.03},
{"i":6,"j":7,"t":40,"p":0.029,"e":0.029,"lo":0.026,"hi":0.032},
{"i":6,"j":7,"t":50,"p":0.03,"e":0.03,"lo":0.027,"hi":0.033},
{"i":6,"j":8,"t":0,"p":0,"e":0,"lo":0,"hi":0,"label":"6 -> 8"},
{"i":6,"j":8,"t":10,"p":0.041,"e":0.041,"lo":0.038,"hi":0.044},
{"i":6,"j":8,"t":20,"p":0.043,"e":0.043,"lo":0.04,"hi":0.046},
{"i":6,"j":8,"t":30,"p":0.045,"e":0.045,"lo":0.042,"hi":0.048},
{"i":6,"j":8,"t":40,"p":0.046,"e":0.046,"lo":0.043,"hi":0.049},
{"i":6,"j":8,"t":50,"p":0.048,"e":0.048,"lo":0.045,"hi":0.051},
{"i":6,"j":9,"t":0,"p":0,"e":0,"lo":0,"hi":0,"label":"6 -> 9"},
{"i":6,"j":9,"t":10,"p":0.03,"e":0.03,"lo":0.027,"hi":0.033},
{"i":6,"j":9,"t":20,"p":0.03,"e":0.03,"lo":0.027,"hi":0.033},
{"i":6,"j":9,"t":30,"p":0.03,"e":0.03,"lo":0.027,"hi":0.033},
{"i":6,"j":9,"t":40,"p":0.03,"e":0.03,"lo":0.027,"hi":0.033},
{"i":6,"j":9,"t":50,"p":0.03,"e":0.03,"lo":0.027,"hi":0.033},
{"i":6,"j":10,"t":0,"p":0,"e":0,"lo":0,"hi":0,"label":"6 -> 10"},
{"i":6,"j":10,"t":10,"p":0.181,"e":0.181,"lo":0.178,"hi":0.184},
{"i":6,"j":10,"t":20,"p":0.202,"e":0.2,"lo":0.194,"hi":0.206},
{"i":6,"j":10,"t":30,"p":0.222,"e":0.219,"lo":0.211,"hi":0.227},
{"i":6,"j":10,"t":40,"p":0.241,"e":0.237,"lo":0.228,"hi":0.246},
{"i":6,"j":10,"t":50,"p":0.259,"e":0.255,"lo":0.245,"hi":0.265},

{"i":7,"j":1,"t":0,"p":0,"e":0,"lo":0,"hi":0,"label":"7 -> 1"},
{"i":7,"j":1,"t":10,"p":0.007,"e":0.007,"lo":0.006,"hi":0.008},
{"i":7,"j":1,"t":20,"p":0.007,"e":0.007,"lo":0.006,"hi":0.008},
{"i":7,"j":1,"t":30,"p":0.007,"e":0.007,"lo":0.006,"hi":0.008},
{"i":7,"j":1,"t":40,"p":0.007,"e":0.007,"lo":0.006,"hi":0.008},
{"i":7,"j":1,"t":50,"p":0.007,"e":0.007,"lo":0.006,"hi":0.008},
{"i":7,"j":2,"t":0,"p":0,"e":0,"lo":0,"hi":0,"label":"7 -> 2"},
{"i":7,"j":2,"t":10,"p":0.012,"e":0.012,"lo":0.01,"hi":0.014},
{"i":7,"j":2,"t":20,"p":0.013,"e":0.013,"lo":0.011,"hi":0.015},
{"i":7,"j":2,"t":30,"p":0.013,"e":0.013,"lo":0.011,"hi":0.015},
{"i":7,"j":2,"t":40,"p":0.014,"e":0.014,"lo":0.012,"hi":0.016},
{"i":7,"j":2,"t":50,"p":0.014,"e":0.014,"lo":0.012,"hi":0.016},
{"i":7,"j":3,"t":0,"p":0,"e":0,"lo":0,"hi":0,"label":"7 -> 3"},
{"i":7,"j":3,"t":10,"p":0.005,"e":0.005,"lo":0.004,"hi":0.006},
{"i":7,"j":3,"t":20,"p":0.005,"e":0.005,"lo":0.004,"hi":0.006},
{"i":7,"j":3,"t":30,"p":0.005,"e":0.005,"lo":0.004,"hi":0.006},
{"i":7,"j":3,"t":40,"p":0.005,"e":0.005,"lo":0.004,"hi":0.006},
{"i":7,"j":3,"t":50,"p":0.005,"e":0.005,"lo":0.004,"hi":0.006},
{"i":7,"j":4,"t":0,"p":0,"e":0,"lo":0,"hi":0,"label":"7 -> 4"},
{"i":7,"j":4,"t":10,"p":0.019,"e":0.019,"lo":0.016,"hi":0.022},
{"i":7,"j":4,"t":20,"p":0.019,"e":0.019,"lo":0.016,"hi":0.022},
{"i":7,"j":4,"t":30,"p":0.02,"e":0.02,"lo":0.017,"hi":0.023},
{"i":7,"j":4,"t":40,"p":0.02,"e":0.02,"lo":0.017,"hi":0.023},
{"i":7,"j":4,"t":50,"p":0.02,"e":0.02,"lo":0.017,"hi":0.023},
{"i":7,"j":5,"t":0,"p":0,"e":0,"lo":0,"hi":0,"label":"7 -> 5"},
{"i":7,"j":5,"t":10,"p":0.011,"e":0.011,"lo":0.009,"hi":0.013},
{"i":7,"j":5,"t":20,"p":0.012,"e":0.012,"lo":0.01,"hi":0.014},
{"i":7,"j":5,"t":30,"p":0.013,"e":0.013,"lo":0.011,"hi":0.015},
{"i":7,"j":5,"t":40,"p":0.013,"e":0.013,"lo":0.011,"hi":0.015},
{"i":7,"j":5,"t":50,"p":0.014,"e":0.014,"lo":0.012,"hi":0.016},
{"i":7,"j":6,"t":0,"p":0,"e":0,"lo":0,"hi":0,"label":"7 -> 6"},
{"i":7,"j":6,"t":10,"p":0.019,"e":0.019,"lo":0.016,"hi":0.022},
{"i":7,"j":6,"t":20,"p":0.02,"e":0.02,"lo":0.017,"hi":0.023},
{"i":7,"j":6,"t":30,"p":0.02,"e":0.02,"lo":0.017,"hi":0.023},
{"i":7,"j":6,"t":40,"p":0.021,"e":0.021,"lo":0.018,"hi":0.024},
{"i":7,"j":6,"t":50,"p":0.022,"e":0.022,"lo":0.019,"hi":0.025},
{"i":7,"j":7,"t":0,"p":1,"e":1,"lo":1,"hi":1,"label":"7 -> 7"},
{"i":7,"j":7,"t":10,"p":0.514,"e":0.514,"lo":0.511,"hi":0.517},
{"i":7,"j":7,"t":20,"p":0.461,"e":0.457,"lo":0.447,"hi":0.467},
{"i":7,"j":7,"t":30,"p":0.417,"e":0.41,"lo":0.396,"hi":0.424},
{"i":7,"j":7,"t":40,"p":0.381,"e":0.37,"lo":0.353,"hi":0.387},
{"i":7,"j":7,"t":50,"p":0.351,"e":0.336,"lo":0.316,"hi":0.356},
{"i":7,"j":8,"t":0,"p":0,"e":0,"lo":0,"hi":0,"label":"7 -> 8"},
{"i":7,"j":8,"t":10,"p":0.034,"e":0.034,"lo":0.031,"hi":0.037},
{"i":7,"j":8,"t":20,"p":0.037,"e":0.037,"lo":0.034,"hi":0.04},
{"i":7,"j":8,"t":30,"p":0.041,"e":0.041,"lo":0.038,"hi":0.044},
{"i":7,"j":8,"t":40,"p":0.044,"e":0.044,"lo":0.041,"hi":0.047},
{"i":7,"j":8,"t":50,"p":0.048,"e":0.048,"lo":0.045,"hi":0.051},
{"i":7,"j":9,"t":0,"p":0,"e":0,"lo":0,"hi":0,"label":"7 -> 9"},
{"i":7,"j":9,"t":10,"p":0.045,"e":0.045,"lo":0.042,"hi":0.048},
{"i":7,"j":9,"t":20,"p":0.049,"e":0.049,"lo":0.046,"hi":0.052},
{"i":7,"j":9,"t":30,"p":0.052,"e":0.052,"lo":0.049,"hi":0.055},
{"i":7,"j":9,"t":40,"p":0.056,"e":0.056,"lo":0.053,"hi":0.059},
{"i":7,"j":9,"t":50,"p":0.059,"e":0.059,"lo":0.056,"hi":0.062},
{"i":7,"j":10,"t":0,"p":0,"e":0,"lo":0,"hi":0,"label":"7 -> 10"},
{"i":7,"j":10,"t":10,"p":0.364,"e":0.364,"lo":0.361,"hi":0.367},
{"i":7,"j":10,"t":20,"p":0.401,"e":0.405,"lo":0.398,"hi":0.412},
{"i":7,"j":10,"t":30,"p":0.433,"e":0.442,"lo":0.432,"hi":0.452},
{"i":7,"j":10,"t":40,"p":0.461,"e":0.475,"lo":0.463,"hi":0.487},
{"i":7,"j":10,"t":50,"p":0.486,"e":0.504,"lo":0.49,"hi":0.518},

{"i":8,"j":1,"t":0,"p":0,"e":0,"lo":0,"hi":0,"label":"8 -> 1"},
{"i":8,"j":1,"t":10,"p":0.004,"e":0.004,"lo":0.003,"hi":0.005},
{"i":8,"j":1,"t":20,"p":0.004,"e":0.004,"lo":0.003,"hi":0.005},
{"i":8,"j":1,"t":30,"p":0.004,"e":0.004,"lo":0.003,"hi":0.005},
{"i":8,"j":1,"t":40,"p":0.004,"e":0.004,"lo":0.003,"hi":0.005},
{"i":8,"j":1,"t":50,"p":0.004,"e":0.004,"lo":0.003,"hi":0.005},
{"i":8,"j":2,"t":0,"p":0,"e":0,"lo":0,"hi":0,"label":"8 -> 2"},
{"i":8,"j":2,"t":10,"p":0.003,"e":0.003,"lo":0.002,"hi":0.004},
{"i":8,"j":2,"t":20,"p":0.003,"e":0.003,"lo":0.002,"hi":0.004},
{"i":8,"j":2,"t":30,"p":0.003,"e":0.003,"lo":0.002,"hi":0.004},
{"i":8,"j":2,"t":40,"p":0.003,"e":0.003,"lo":0.002,"hi":0.004},
{"i":8,"j":2,"t":50,"p":0.003,"e":0.003,"lo":0.002,"hi":0.004},
{"i":8,"j":3,"t":0,"p":0,"e":0,"lo":0,"hi":0,"label":"8 -> 3"},
{"i":8,"j":3,"t":10,"p":0.008,"e":0.008,"lo":0.007,"hi":0.009},
{"i":8,"j":3,"t":20,"p":0.008,"e":0.008,"lo":0.007,"hi":0.009},
{"i":8,"j":3,"t":30,"p":0.008,"e":0.008,"lo":0.007,"hi":0.009},
{"i":8,"j":3,"t":40,"p":0.008,"e":0.008,"lo":0.007,"hi":0.009},
{"i":8,"j":3,"t":50,"p":0.008,"e":0.008,"lo":0.007,"hi":0.009},
{"i":8,"j":4,"t":0,"p":0,"e":0,"lo":0,"hi":0,"label":"8 -> 4"},
{"i":8,"j":4,"t":10,"p":0.004,"e":0.004,"lo":0.003,"hi":0.005},
{"i":8,"j":4,"t":20,"p":0.004,"e":0.004,"lo":0.003,"hi":0.005},
{"i":8,"j":4,"t":30,"p":0.004,"e":0.004,"lo":0.003,"hi":0.005},
{"i":8,"j":4,"t":40,"p":0.004,"e":0.004,"lo":0.003,"hi":0.005},
{"i":8,"j":4,"t":50,"p":0.004,"e":0.004,"lo":0.003,"hi":0.005},
{"i":8,"j":5,"t":0,"p":0,"e":0,"lo":0,"hi":0,"label":"8 -> 5"},
{"i":8,"j":5,"t":10,"p":0.064,"e":0.064,"lo":0.06,"hi":0.068},
{"i":8,"j":5,"t":20,"p":0.069,"e":0.069,"lo":0.065,"hi":0.073},
{"i":8,"j":5,"t":30,"p":0.072,"e":0.072,"lo":0.068,"hi":0.076},
{"i":8,"j":5,"t":40,"p":0.074,"e":0.074,"lo":0.07,"hi":0.078},
{"i":8,"j":5,"t":50,"p":0.076,"e":0.076,"lo":0.072,"hi":0.08},
{"i":8,"j":6,"t":0,"p":0,"e":0,"lo":0,"hi":0,"label":"8 -> 6"},
{"i":8,"j":6,"t":10,"p":0.015,"e":0.015,"lo":0.012,"hi":0.018},
{"i":8,"j":6,"t":20,"p":0.016,"e":0.016,"lo":0.013,"hi":0.019},
{"i":8,"j":6,"t":30,"p":0.017,"e":0.017,"lo":0.014,"hi":0.02},
{"i":8,"j":6,"t":40,"p":0.017,"e":0.017,"lo":0.014,"hi":0.02},
{"i":8,"j":6,"t":50,"p":0.018,"e":0.018,"lo":0.015,"hi":0.021},
{"i":8,"j":7,"t":0,"p":0,"e":0,"lo":0,"hi":0,"label":"8 -> 7"},
{"i":8,"j":7,"t":10,"p":0.018,"e":0.018,"lo":0.015,"hi":0.021},
{"i":8,"j":7,"t":20,"p":0.02,"e":0.02,"lo":0.017,"hi":0.023},
{"i":8,"j":7,"t":30,"p":0.022,"e":0.022,"lo":0.019,"hi":0.025},
{"i":8,"j":7,"t":40,"p":0.023,"e":0.023,"lo":0.02,"hi":0.026},
{"i":8,"j":7,"t":50,"p":0.025,"e":0.025,"lo":0.022,"hi":0.028},
{"i":8,"j":8,"t":0,"p":1,"e":1,"lo":1,"hi":1,"label":"8 -> 8"},
{"i":8,"j":8,"t":10,"p":0.536,"e":0.536,"lo":0.533,"hi":0.539},
{"i":8,"j":8,"t":20,"p":0.487,"e":0.487,"lo":0.479,"hi":0.495},
{"i":8,"j":8,"t":30,"p":0.443,"e":0.443,"lo":0.432,"hi":0.454},
{"i":8,"j":8,"t":40,"p":0.403,"e":0.403,"lo":0.39,"hi":0.416},
{"i":8,"j":8,"t":50,"p":0.366,"e":0.366,"lo":0.351,"hi":0.381},
{"i":8,"j":9,"t":0,"p":0,"e":0,"lo":0,"hi":0,"label":"8 -> 9"},
{"i":8,"j":9,"t":10,"p":0.023,"e":0.023,"lo":0.02,"hi":0.026},
{"i":8,"j":9,"t":20,"p":0.027,"e":0.027,"lo":0.024,"hi":0.03},
{"i":8,"j":9,"t":30,"p":0.03,"e":0.03,"lo":0.027,"hi":0.033},
{"i":8,"j":9,"t":40,"p":0.034,"e":0.034,"lo":0.031,"hi":0.037},
{"i":8,"j":9,"t":50,"p":0.037,"e":0.037,"lo":0.034,"hi":0.04},
{"i":8,"j":10,"t":0,"p":0,"e":0,"lo":0,"hi":0,"label":"8 -> 10"},
{"i":8,"j":10,"t":10,"p":0.329,"e":0.329,"lo":0.326,"hi":0.332},
{"i":8,"j":10,"t":20,"p":0.372,"e":0.372,"lo":0.364,"hi":0.38},
{"i":8,"j":10,"t":30,"p":0.406,"e":0.406,"lo":0.396,"hi":0.416},
{"i":8,"j":10,"t":40,"p":0.434,"e":0.434,"lo":0.422,"hi":0.446},
{"i":8,"j":10,"t":50,"p":0.457,"e":0.457,"lo":0.443,"hi":0.471},

{"i":9,"j":1,"t":0,"p":0,"e":0,"lo":0,"hi":0,"label":"9 -> 1"},
{"i":9,"j":1,"t":10,"p":0.004,"e":0.004,"lo":0.003,"hi":0.005},
{"i":9,"j":1,"t":20,"p":0.004,"e":0.004,"lo":0.003,"hi":0.005},
{"i":9,"j":1,"t":30,"p":0.004,"e":0.004,"lo":0.003,"hi":0.005},
{"i":9,"j":1,"t":40,"p":0.004,"e":0.004,"lo":0.003,"hi":0.005},
{"i":9,"j":1,"t":50,"p":0.004,"e":0.004,"lo":0.003,"hi":0.005},
{"i":9,"j":2,"t":0,"p":0,"e":0,"lo":0,"hi":0,"label":"9 -> 2"},
{"i":9,"j":2,"t":10,"p":0.004,"e":0.004,"lo":0.003,"hi":0.005},
{"i":9,"j":2,"t":20,"p":0.004,"e":0.004,"lo":0.003,"hi":0.005},
{"i":9,"j":2,"t":30,"p":0.004,"e":0.004,"lo":0.003,"hi":0.005},
{"i":9,"j":2,"t":40,"p":0.004,"e":0.004,"lo":0.003,"hi":0.005},
{"i":9,"j":2,"t":50,"p":0.004,"e":0.004,"lo":0.003,"hi":0.005},
{"i":9,"j":3,"t":0,"p":0,"e":0,"lo":0,"hi":0,"label":"9 -> 3"},
{"i":9,"j":3,"t":10,"p":0.005,"e":0.005,"lo":0.004,"hi":0.006},
{"i":9,"j":3,"t":20,"p":0.005,"e":0.005,"lo":0.004,"hi":0.006},
{"i":9,"j":3,"t":30,"p":0.005,"e":0.005,"lo":0.004,"hi":0.006},
{"i":9,"j":3,"t":40,"p":0.005,"e":0.005,"lo":0.004,"hi":0.006},
{"i":9,"j":3,"t":50,"p":0.005,"e":0.005,"lo":0.004,"hi":0.006},
{"i":9,"j":4,"t":0,"p":0,"e":0,"lo":0,"hi":0,"label":"9 -> 4"},
{"i":9,"j":4,"t":10,"p":0.022,"e":0.022,"lo":0.019,"hi":0.025},
{"i":9,"j":4,"t":20,"p":0.022,"e":0.022,"lo":0.019,"hi":0.025},
{"i":9,"j":4,"t":30,"p":0.023,"e":0.023,"lo":0.02,"hi":0.026},
{"i":9,"j":4,"t":40,"p":0.023,"e":0.023,"lo":0.02,"hi":0.026},
{"i":9,"j":4,"t":50,"p":0.023,"e":0.023,"lo":0.02,"hi":0.026},
{"i":9,"j":5,"t":0,"p":0,"e":0,"lo":0,"hi":0,"label":"9 -> 5"},
{"i":9,"j":5,"t":10,"p":0.034,"e":0.034,"lo":0.031,"hi":0.037},
{"i":9,"j":5,"t":20,"p":0.036,"e":0.036,"lo":0.033,"hi":0.039},
{"i":9,"j":5,"t":30,"p":0.038,"e":0.038,"lo":0.035,"hi":0.041},
{"i":9,"j":5,"t":40,"p":0.04,"e":0.04,"lo":0.037,"hi":0.043},
{"i":9,"j":5,"t":50,"p":0.041,"e":0.041,"lo":0.038,"hi":0.044},
{"i":9,"j":6,"t":0,"p":0,"e":0,"lo":0,"hi":0,"label":"9 -> 6"},
{"i":9,"j":6,"t":10,"p":0.014,"e":0.014,"lo":0.011,"hi":0.017},
{"i":9,"j":6,"t":20,"p":0.014,"e":0.014,"lo":0.011,"hi":0.017},
{"i":9,"j":6,"t":30,"p":0.014,"e":0.014,"lo":0.011,"hi":0.017},
{"i":9,"j":6,"t":40,"p":0.014,"e":0.014,"lo":0.011,"hi":0.017},
{"i":9,"j":6,"t":50,"p":0.014,"e":0.014,"lo":0.011,"hi":0.017},
{"i":9,"j":7,"t":0,"p":0,"e":0,"lo":0,"hi":0,"label":"9 -> 7"},
{"i":9,"j":7,"t":10,"p":0.022,"e":0.022,"lo":0.019,"hi":0.025},
{"i":9,"j":7,"t":20,"p":0.024,"e":0.024,"lo":0.021,"hi":0.027},
{"i":9,"j":7,"t":30,"p":0.027,"e":0.027,"lo":0.024,"hi":0.03},
{"i":9,"j":7,"t":40,"p":0.029,"e":0.029,"lo":0.026,"hi":0.032},
{"i":9,"j":7,"t":50,"p":0.031,"e":0.031,"lo":0.028,"hi":0.034},
{"i":9,"j":8,"t":0,"p":0,"e":0,"lo":0,"hi":0,"label":"9 -> 8"},
{"i":9,"j":8,"t":10,"p":0.019,"e":0.019,"lo":0.015,"hi":0.023},
{"i":9,"j":8,"t":20,"p":0.023,"e":0.023,"lo":0.019,"hi":0.027},
{"i":9,"j":8,"t":30,"p":0.026,"e":0.026,"lo":0.022,"hi":0.03},
{"i":9,"j":8,"t":40,"p":0.03,"e":0.03,"lo":0.026,"hi":0.034},
{"i":9,"j":8,"t":50,"p":0.033,"e":0.033,"lo":0.029,"hi":0.037},
{"i":9,"j":9,"t":0,"p":1,"e":1,"lo":1,"hi":1,"label":"9 -> 9"},
{"i":9,"j":9,"t":10,"p":0.665,"e":0.665,"lo":0.662,"hi":0.668},
{"i":9,"j":9,"t":20,"p":0.618,"e":0.62,"lo":0.612,"hi":0.628},
{"i":9,"j":9,"t":30,"p":0.576,"e":0.58,"lo":0.569,"hi":0.591},
{"i":9,"j":9,"t":40,"p":0.54,"e":0.545,"lo":0.532,"hi":0.558},
{"i":9,"j":9,"t":50,"p":0.507,"e":0.514,"lo":0.499,"hi":0.529},
{"i":9,"j":10,"t":0,"p":0,"e":0,"lo":0,"hi":0,"label":"9 -> 10"},
{"i":9,"j":10,"t":10,"p":0.235,"e":0.235,"lo":0.232,"hi":0.238},
{"i":9,"j":10,"t":20,"p":0.272,"e":0.27,"lo":0.263,"hi":0.277},
{"i":9,"j":10,"t":30,"p":0.303,"e":0.3,"lo":0.29,"hi":0.31},
{"i":9,"j":10,"t":40,"p":0.331,"e":0.327,"lo":0.315,"hi":0.339},
{"i":9,"j":10,"t":50,"p":0.355,"e":0.35,"lo":0.337,"hi":0.363},

{"i":10,"j":1,"t":0,"p":0,"e":0,"lo":0,"hi":0,"label":"10 -> 1"},
{"i":10,"j":1,"t":10,"p":0.003,"e":0.003,"lo":0.002,"hi":0.004},
{"i":10,"j":1,"t":20,"p":0.003,"e":0.003,"lo":0.002,"hi":0.004},
{"i":10,"j":1,"t":30,"p":0.003,"e":0.003,"lo":0.002,"hi":0.004},
{"i":10,"j":1,"t":40,"p":0.003,"e":0.003,"lo":0.002,"hi":0.004},
{"i":10,"j":1,"t":50,"p":0.003,"e":0.003,"lo":0.002,"hi":0.004},
{"i":10,"j":2,"t":0,"p":0,"e":0,"lo":0,"hi":0,"label":"10 -> 2"},
{"i":10,"j":2,"t":10,"p":0.004,"e":0.004,"lo":0.003,"hi":0.005},
{"i":10,"j":2,"t":20,"p":0.004,"e":0.004,"lo":0.003,"hi":0.005},
{"i":10,"j":2,"t":30,"p":0.004,"e":0.004,"lo":0.003,"hi":0.005},
{"i":10,"j":2,"t":40,"p":0.004,"e":0.004,"lo":0.003,"hi":0.005},
{"i":10,"j":2,"t":50,"p":0.004,"e":0.004,"lo":0.003,"hi":0.005},
{"i":10,"j":3,"t":0,"p":0,"e":0,"lo":0,"hi":0,"label":"10 -> 3"},
{"i":10,"j":3,"t":10,"p":0.005,"e":0.005,"lo":0.004,"hi":0.006},
{"i":10,"j":3,"t":20,"p":0.005,"e":0.005,"lo":0.004,"hi":0.006},
{"i":10,"j":3,"t":30,"p":0.005,"e":0.005,"lo":0.004,"hi":0.006},
{"i":10,"j":3,"t":40,"p":0.005,"e":0.005,"lo":0.004,"hi":0.006},
{"i":10,"j":3,"t":50,"p":0.005,"e":0.005,"lo":0.004,"hi":0.006},
{"i":10,"j":4,"t":0,"p":0,"e":0,"lo":0,"hi":0,"label":"10 -> 4"},
{"i":10,"j":4,"t":10,"p":0.006,"e":0.006,"lo":0.005,"hi":0.007},
{"i":10,"j":4,"t":20,"p":0.006,"e":0.006,"lo":0.005,"hi":0.007},
{"i":10,"j":4,"t":30,"p":0.006,"e":0.006,"lo":0.005,"hi":0.007},
{"i":10,"j":4,"t":40,"p":0.006,"e":0.006,"lo":0.005,"hi":0.007},
{"i":10,"j":4,"t":50,"p":0.006,"e":0.006,"lo":0.005,"hi":0.007},
{"i":10,"j":5,"t":0,"p":0,"e":0,"lo":0,"hi":0,"label":"10 -> 5"},
{"i":10,"j":5,"t":10,"p":0.008,"e":0.008,"lo":0.006,"hi":0.01},
{"i":10,"j":5,"t":20,"p":0.01,"e":0.01,"lo":0.008,"hi":0.012},
{"i":10,"j":5,"t":30,"p":0.011,"e":0.011,"lo":0.009,"hi":0.013},
{"i":10,"j":5,"t":40,"p":0.013,"e":0.013,"lo":0.011,"hi":0.015},
{"i":10,"j":5,"t":50,"p":0.014,"e":0.014,"lo":0.012,"hi":0.016},
{"i":10,"j":6,"t":0,"p":0,"e":0,"lo":0,"hi":0,"label":"10 -> 6"},
{"i":10,"j":6,"t":10,"p":0.01,"e":0.01,"lo":0.008,"hi":0.012},
{"i":10,"j":6,"t":20,"p":0.012,"e":0.012,"lo":0.01,"hi":0.014},
{"i":10,"j":6,"t":30,"p":0.015,"e":0.015,"lo":0.013,"hi":0.017},
{"i":10,"j":6,"t":40,"p":0.017,"e":0.017,"lo":0.015,"hi":0.019},
{"i":10,"j":6,"t":50,"p":0.019,"e":0.019,"lo":0.017,"hi":0.021},
{"i":10,"j":7,"t":0,"p":0,"e":0,"lo":0,"hi":0,"label":"10 -> 7"},
{"i":10,"j":7,"t":10,"p":0.041,"e":0.041,"lo":0.038,"hi":0.044},
{"i":10,"j":7,"t":20,"p":0.044,"e":0.044,"lo":0.041,"hi":0.047},
{"i":10,"j":7,"t":30,"p":0.047,"e":0.047,"lo":0.044,"hi":0.05},
{"i":10,"j":7,"t":40,"p":0.05,"e":0.05,"lo":0.047,"hi":0.053},
{"i":10,"j":7,"t":50,"p":0.052,"e":0.052,"lo":0.049,"hi":0.055},
{"i":10,"j":8,"t":0,"p":0,"e":0,"lo":0,"hi":0,"label":"10 -> 8"},
{"i":10,"j":8,"t":10,"p":0.059,"e":0.059,"lo":0.056,"hi":0.062},
{"i":10,"j":8,"t":20,"p":0.065,"e":0.065,"lo":0.062,"hi":0.068},
{"i":10,"j":8,"t":30,"p":0.07,"e":0.07,"lo":0.067,"hi":0.073},
{"i":10,"j":8,"t":40,"p":0.075,"e":0.075,"lo":0.072,"hi":0.078},
{"i":10,"j":8,"t":50,"p":0.079,"e":0.079,"lo":0.076,"hi":0.082},
{"i":10,"j":9,"t":0,"p":0,"e":0,"lo":0,"hi":0,"label":"10 -> 9"},
{"i":10,"j":9,"t":10,"p":0.052,"e":0.052,"lo":0.049,"hi":0.055},
{"i":10,"j":9,"t":20,"p":0.058,"e":0.058,"lo":0.055,"hi":0.061},
{"i":10,"j":9,"t":30,"p":0.064,"e":0.064,"lo":0.061,"hi":0.067},
{"i":10,"j":9,"t":40,"p":0.069,"e":0.069,"lo":0.066,"hi":0.072},
{"i":10,"j":9,"t":50,"p":0.074,"e":0.074,"lo":0.071,"hi":0.077},
{"i":10,"j":10,"t":0,"p":1,"e":1,"lo":1,"hi":1,"label":"10 -> 10"},
{"i":10,"j":10,"t":10,"p":0.836,"e":0.836,"lo":0.834,"hi":0.838},
{"i":10,"j":10,"t":20,"p":0.815,"e":0.815,"lo":0.811,"hi":0.819},
{"i":10,"j":10,"t":30,"p":0.796,"e":0.796,"lo":0.791,"hi":0.801},
{"i":10,"j":10,"t":40,"p":0.778,"e":0.778,"lo":0.772,"hi":0.784},
{"i":10,"j":10,"t":50,"p":0.761,"e":0.761,"lo":0.754,"hi":0.768}
]},
"facet": {
  "row": {"field": "i", "type": "ordinal", "sort": "ascending", "header": {"title": null, "labels": false}},
  "column": {"field": "j", "type": "ordinal", "sort": "ascending", "header": {"title": null, "labels": false}}
},
"spacing": {"row": 35, "column": 49},
"spec": {
  "width": 245,
  "height": 245,
  "layer": [
    {
      "mark": {"type": "area", "color": "#1f77b4"},
      "encoding": {
        "x": {"field": "t", "type": "quantitative", "scale": {"domain": [-2.5, 52.5], "nice": false, "zero": false}, "axis": {"values": [0, 20, 40], "title": "lagtime (steps)"}},
        "y": {"field": "lo", "type": "quantitative", "scale": {"domain": [0, 1], "nice": false}, "axis": {"values": [0, 0.2, 0.4, 0.6, 0.8, 1], "format": ".1f", "title": "probability"}},
        "y2": {"field": "hi"},
        "opacity": {
          "datum": "conf. 95.0%", "type": "nominal",
          "scale": {"type": "ordinal", "domain": ["conf. 95.0%"], "range": [0.25, 0.25]},
          "legend": {"legendX": 1276, "legendY": -445, "symbolOpacity": 0, "symbolFillColor": "transparent", "symbolStrokeColor": "transparent"}
        }
      }
    },
    {
      "mark": {"type": "line", "strokeWidth": 3},
      "encoding": {
        "x": {"field": "t", "type": "quantitative", "title": "lagtime (steps)"},
        "y": {"field": "p", "type": "quantitative", "title": "probability"},
        "color": {
          "datum": "predict", "type": "nominal",
          "scale": {"domain": ["predict"], "range": ["black"]},
          "legend": {"legendX": 1166, "legendY": -445}
        }
      }
    },
    {
      "mark": {"type": "line", "strokeWidth": 3, "color": "#1f77b4"},
      "encoding": {
        "x": {"field": "t", "type": "quantitative", "title": "lagtime (steps)"},
        "y": {"field": "e", "type": "quantitative", "title": "probability"},
        "strokeDash": {
          "datum": "estimate", "type": "nominal",
          "scale": {"domain": ["estimate"], "range": [[11, 5]]},
          "legend": {"legendX": 1496, "legendY": -445, "symbolStrokeColor": "#1f77b4"}
        }
      }
    },
    {
      "transform": [{"filter": "datum.label"}],
      "mark": {"type": "text", "align": "left", "baseline": "alphabetic", "font": "DejaVu Sans", "fontSize": 20, "fontWeight": "bold", "color": "black"},
      "encoding": {
        "x": {"datum": 0.25, "type": "quantitative"},
        "y": {"datum": 0.05, "type": "quantitative"},
        "text": {"field": "label"}
      }
    }
  ]
}
}
